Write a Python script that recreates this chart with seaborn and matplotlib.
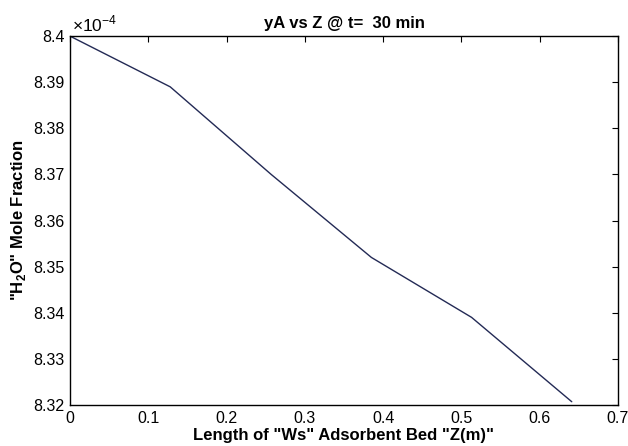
import matplotlib
matplotlib.use("Agg")
import matplotlib.pyplot as plt
import seaborn as sns
import pandas as pd
from matplotlib.ticker import FuncFormatter

# Data (y in units of 1e-4)
z_m = [0.0, 0.128, 0.257, 0.385, 0.513, 0.641]
y_h2o_e4 = [8.400, 8.389, 8.370, 8.352, 8.339, 8.3207]
x_ticks = [0, 0.1, 0.2, 0.3, 0.4, 0.5, 0.6, 0.7]
y_ticks = [8.32, 8.33, 8.34, 8.35, 8.36, 8.37, 8.38, 8.39, 8.40]

sns.set_style("white")
plt.rcParams['font.family'] = ['Liberation Sans', 'DejaVu Sans']
plt.rcParams['mathtext.fontset'] = 'custom'
plt.rcParams['mathtext.rm'] = 'Liberation Sans'
plt.rcParams['mathtext.bf'] = 'Liberation Sans:bold'
plt.rcParams['text.color'] = 'black'
plt.rcParams['axes.labelcolor'] = 'black'
plt.rcParams['xtick.color'] = 'black'
plt.rcParams['ytick.color'] = 'black'

df = pd.DataFrame({"z": z_m, "y": y_h2o_e4})

fig = plt.figure(figsize=(6.28, 4.46), dpi=100)
ax = fig.add_axes([0.1115, 0.092, 0.8725, 0.827])
sns.lineplot(data=df, x="z", y="y", ax=ax, color="#232a55", linewidth=1.0, sort=False)

ax.set_xlim(0, 0.7)
ax.set_ylim(8.32, 8.40)
ax.set_xticks(x_ticks)
ax.set_yticks(y_ticks)
ax.xaxis.set_major_formatter(FuncFormatter(lambda v, p: "%g" % round(v, 4)))
ax.yaxis.set_major_formatter(FuncFormatter(lambda v, p: "%g" % round(v, 4)))
ax.tick_params(direction="in", length=4, width=0.8, top=True, right=True,
               labelsize=11.5, colors="black", labelcolor="black", pad=4)
for s in ax.spines.values():
    s.set_visible(True)
    s.set_color("black")
    s.set_linewidth(1.0)

ax.set_title("yA vs Z @ t=  30 min", fontsize=12, fontweight="bold", pad=6, color="black")
ax.set_xlabel('Length of "Ws" Adsorbent Bed "Z(m)"', fontsize=12, fontweight="bold",
              labelpad=2, color="black")
ax.set_ylabel(r'"H$_\mathbf{2}$O" Mole Fraction', fontsize=12, fontweight="bold",
              labelpad=4, color="black")
ax.text(0.003, 1.004, r"$\times$10$^{-4}$", transform=ax.transAxes, fontsize=12.5,
        ha="left", va="bottom", color="black")

fig.savefig("out.png", dpi=100)
